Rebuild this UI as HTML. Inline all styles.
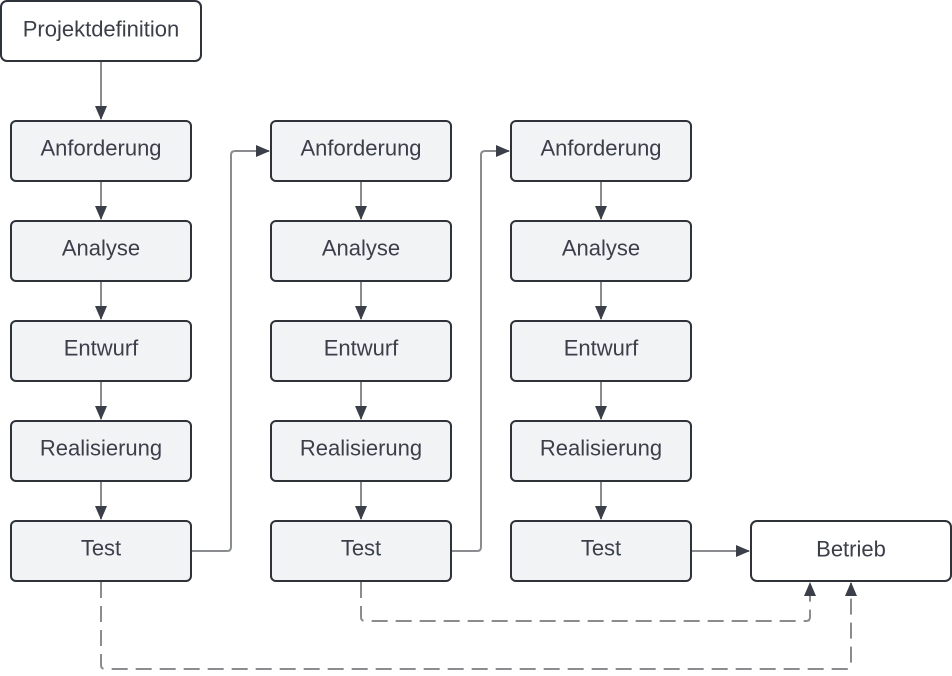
<!DOCTYPE html>
<html><head><meta charset="utf-8"><style>
body{margin:0;background:#fff}
svg text{font-family:"Liberation Sans",sans-serif;font-size:22px;fill:#3a3f4a;text-anchor:middle;dominant-baseline:central}
</style></head><body>
<svg width="952" height="671" viewBox="0 0 952 671" xmlns="http://www.w3.org/2000/svg">
<defs><marker id="a" markerWidth="14" markerHeight="14" refX="13" refY="7" orient="auto" markerUnits="userSpaceOnUse"><path d="M0,1 L14,7 L0,13 Z" fill="#3a3f4a"/></marker></defs>
<g fill="none" stroke="#8a8c90" stroke-width="2">
<path d="M101,62 V119" marker-end="url(#a)"/>
<path d="M101,182 V219" marker-end="url(#a)"/><path d="M101,282 V319" marker-end="url(#a)"/><path d="M101,382 V419" marker-end="url(#a)"/><path d="M101,482 V519" marker-end="url(#a)"/>
<path d="M361,182 V219" marker-end="url(#a)"/><path d="M361,282 V319" marker-end="url(#a)"/><path d="M361,382 V419" marker-end="url(#a)"/><path d="M361,482 V519" marker-end="url(#a)"/>
<path d="M601,182 V219" marker-end="url(#a)"/><path d="M601,282 V319" marker-end="url(#a)"/><path d="M601,382 V419" marker-end="url(#a)"/><path d="M601,482 V519" marker-end="url(#a)"/>
<path d="M192,551 H227 Q231,551 231,547 V155 Q231,151 235,151 H269" marker-end="url(#a)"/>
<path d="M452,551 H477 Q481,551 481,547 V155 Q481,151 485,151 H509" marker-end="url(#a)"/>
<path d="M692,551 H749" marker-end="url(#a)"/>
<path d="M101,582 V665 Q101,669 105,669 H847 Q851,669 851,665 V583" stroke-dasharray="16,8" marker-end="url(#a)"/>
<path d="M361,582 V617 Q361,621 365,621 H806 Q810,621 810,617 V583" stroke-dasharray="16,8" marker-end="url(#a)"/>
</g>
<g stroke="#2e323a" stroke-width="2">
<rect x="1" y="1" width="200" height="60" rx="6" fill="#fff"/>
<rect x="751" y="521" width="200" height="60" rx="6" fill="#fff"/>
<g fill="#f2f3f5">
<rect x="11" y="121" width="180" height="60" rx="5"/><rect x="11" y="221" width="180" height="60" rx="5"/><rect x="11" y="321" width="180" height="60" rx="5"/><rect x="11" y="421" width="180" height="60" rx="5"/><rect x="11" y="521" width="180" height="60" rx="5"/>
<rect x="271" y="121" width="180" height="60" rx="5"/><rect x="271" y="221" width="180" height="60" rx="5"/><rect x="271" y="321" width="180" height="60" rx="5"/><rect x="271" y="421" width="180" height="60" rx="5"/><rect x="271" y="521" width="180" height="60" rx="5"/>
<rect x="511" y="121" width="180" height="60" rx="5"/><rect x="511" y="221" width="180" height="60" rx="5"/><rect x="511" y="321" width="180" height="60" rx="5"/><rect x="511" y="421" width="180" height="60" rx="5"/><rect x="511" y="521" width="180" height="60" rx="5"/>
</g></g>
<text x="101" y="29">Projektdefinition</text>
<text x="851" y="549">Betrieb</text>
<text x="101" y="148">Anforderung</text><text x="101" y="248">Analyse</text><text x="101" y="348">Entwurf</text><text x="101" y="448">Realisierung</text><text x="101" y="548">Test</text>
<text x="361" y="148">Anforderung</text><text x="361" y="248">Analyse</text><text x="361" y="348">Entwurf</text><text x="361" y="448">Realisierung</text><text x="361" y="548">Test</text>
<text x="601" y="148">Anforderung</text><text x="601" y="248">Analyse</text><text x="601" y="348">Entwurf</text><text x="601" y="448">Realisierung</text><text x="601" y="548">Test</text>
</svg>
</body></html>
